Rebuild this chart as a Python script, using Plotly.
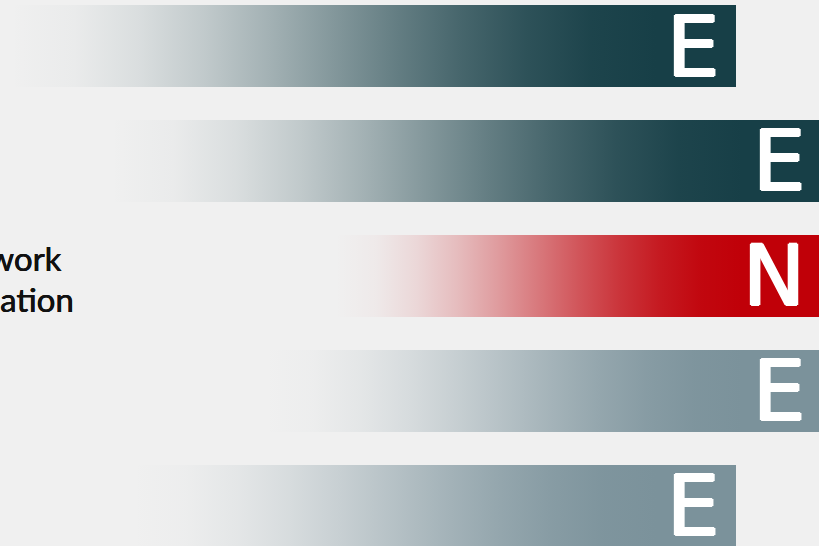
import plotly.graph_objects as go

# ---- data ----
labels = ["E", "E", "N", "E", "E"]
bar_start = [10, 110, 335, 265, 133]
bar_end = [736, 822, 822, 822, 736]
bar_colors = ["23,63,71", "23,63,71", "192,0,8", "123,146,155", "123,146,155"]
side_text = ["work", "ation"]

BG = "#f0f0f0"
HALF = 0.357
FADE = 80  # solid section at the right end of each bar

# smooth alpha ramp (style, not data)
ramp = [(0.0, 0.0), (0.1, 0.028), (0.2, 0.104), (0.3, 0.216), (0.4, 0.352),
        (0.5, 0.5), (0.6, 0.648), (0.7, 0.784), (0.8, 0.896), (0.9, 0.972), (1.0, 1.0)]

thick_white = "1.3px 0 0 white, -1.3px 0 0 white, 0 1px 0 white, 0 -1px 0 white"
thick_dark = "0.6px 0 0 #111, 0 0.3px 0 #111"

fig = go.Figure()
for i, (s, e, c) in enumerate(zip(bar_start, bar_end, bar_colors)):
    cs = [[p, f"rgba({c},{a})"] for p, a in ramp]
    fig.add_trace(go.Scatter(
        x=[s, e, e, s, s],
        y=[i - HALF, i - HALF, i + HALF, i + HALF, i - HALF],
        mode="lines", line=dict(width=0), fill="toself",
        fillgradient=dict(type="horizontal", colorscale=cs, start=s, stop=e - FADE),
        hoverinfo="skip", showlegend=False,
    ))
    fig.add_annotation(x=e - 15, y=i, text=labels[i], showarrow=False,
                       xanchor="right", yanchor="middle", yshift=-1,
                       font=dict(family="DejaVu Sans", size=83, color="white",
                                 shadow=thick_white))

fig.add_annotation(x=63, y=1.84, text=side_text[0], showarrow=False, xanchor="right",
                   yanchor="middle", font=dict(family="Lato", size=33, color="#111111",
                                               shadow=thick_dark))
fig.add_annotation(x=76, y=2.2, text=side_text[1], showarrow=False, xanchor="right",
                   yanchor="middle", font=dict(family="Lato", size=33, color="#111111",
                                               shadow=thick_dark))

fig.update_layout(
    width=819, height=546, margin=dict(l=0, r=0, t=0, b=0),
    paper_bgcolor=BG, plot_bgcolor=BG,
    xaxis=dict(range=[0, 819], visible=False, fixedrange=True),
    yaxis=dict(range=[4.348, -0.4], visible=False, fixedrange=True),
)
fig.write_html("out.html", config={"displayModeBar": False},
               post_script="document.body.style.margin='0';document.body.style.background='%s';" % BG)
